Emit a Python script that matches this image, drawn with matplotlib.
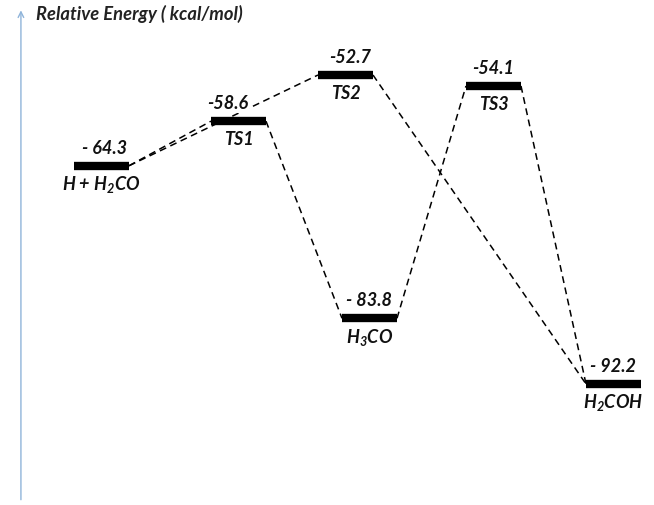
import matplotlib
matplotlib.use("Agg")
import matplotlib.pyplot as plt

# Species along the reaction path and their relative energies (kcal/mol)
species = ["H + H$_2$CO", "TS1", "TS2", "H$_3$CO", "TS3", "H$_2$COH"]
energies = [-64.3, -58.6, -52.7, -83.8, -54.1, -92.2]
value_labels = ["- 64.3", "-58.6", "-52.7", "- 83.8", "-54.1", "- 92.2"]

# Dashed connections between levels (from index -> to index)
paths = [(0, 1), (0, 2), (1, 3), (3, 4), (2, 5), (4, 5)]

# Horizontal placement of each level along the reaction coordinate
x_pos = [101.5, 238.5, 345.5, 369.5, 493.5, 613.5]
half_w = 27.5
# small horizontal nudge (points) for the value labels
label_dx = [2, -8, 3, 0, 0, 0]

plt.rcParams["font.family"] = ["Lato", "DejaVu Sans"]
plt.rcParams["mathtext.fontset"] = "custom"
plt.rcParams["mathtext.rm"] = "Lato:italic:bold"
plt.rcParams["mathtext.it"] = "Lato:italic:bold"
plt.rcParams["mathtext.bf"] = "Lato:italic:bold"

fig = plt.figure(figsize=(6.54, 5.05), dpi=100)
ax = fig.add_axes([0, 0, 1, 1])
ax.set_xlim(0, 654)
ax.set_ylim(-107.67, -43.11)
ax.axis("off")

# Energy axis arrow
ax.annotate("", xy=(0.032, 0.985), xytext=(0.032, 0.005),
            xycoords="axes fraction", textcoords="axes fraction",
            arrowprops=dict(arrowstyle="->", color="#8fb4da", lw=1.0,
                            mutation_scale=10))
ax.text(0.055, 0.972, "Relative Energy ( kcal/mol)", transform=ax.transAxes,
        ha="left", va="center", fontsize=13.2, style="italic",
        fontweight="bold", color="#222222")

# Dashed connectors
for a, b in paths:
    ax.plot([x_pos[a] + half_w, x_pos[b] - half_w], [energies[a], energies[b]],
            color="black", lw=1.1, ls=(0, (4.5, 3)), zorder=1)

# Energy levels with value and species labels
for x, e, name, vlab, dx in zip(x_pos, energies, species, value_labels, label_dx):
    ax.plot([x - half_w, x + half_w], [e, e], color="black", lw=6,
            solid_capstyle="butt", zorder=2)
    ax.annotate(vlab, (x, e), xytext=(dx, 12.5), textcoords="offset points",
                ha="center", va="center", fontsize=13, style="italic",
                fontweight="bold", color="#111111", zorder=3,
                bbox=dict(boxstyle="square,pad=0.05", fc="white", ec="none"))
    ax.annotate(name, (x, e), xytext=(0, -13.5), textcoords="offset points",
                ha="center", va="center", fontsize=13, style="italic",
                fontweight="bold", color="#111111", zorder=3)

fig.savefig("out.png", dpi=100)
